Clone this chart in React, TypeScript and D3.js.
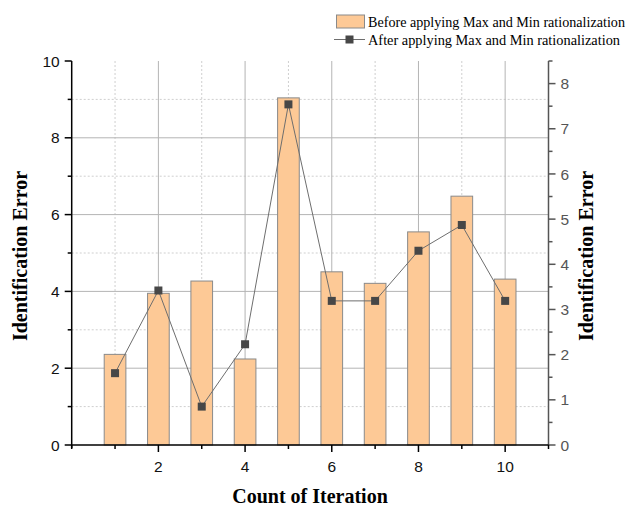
import React from "react";
import * as d3 from "d3";

const iterations = [1, 2, 3, 4, 5, 6, 7, 8, 9, 10];
const beforeValues = [2.36, 3.95, 4.27, 2.24, 9.04, 4.51, 4.21, 5.55, 6.48, 4.32];
const afterValues = [1.59, 3.42, 0.85, 2.23, 7.54, 3.19, 3.19, 4.3, 4.87, 3.19];
const xMajorTicks = [2, 4, 6, 8, 10];
const xMinorTicks = [0, 1, 3, 5, 7, 9, 11];
const leftMajorTicks = [0, 2, 4, 6, 8, 10];
const leftMinorTicks = [1, 3, 5, 7, 9];
const rightMajorTicks = [0, 1, 2, 3, 4, 5, 6, 7, 8];
const rightMinorTicks = [0.5, 1.5, 2.5, 3.5, 4.5, 5.5, 6.5, 7.5];
const legendLabels = [
  "Before applying Max and Min rationalization",
  "After applying Max and Min rationalization",
];
const xTitle = "Count of Iteration";
const yTitle = "Identification Error";

const W = 630;
const H = 506;
const L = 71.7;
const R = 548.5;
const T = 61;
const B = 445;

export default function App() {
  const x = d3.scaleLinear().domain([0, 11]).range([L, R]);
  const yL = d3.scaleLinear().domain([0, 10]).range([B, T]);
  const yR = d3.scaleLinear().domain([0, 8.5]).range([B, T]);
  const barW = x(0.5) - x(0);
  const line = d3
    .line<number>()
    .x((_, i) => x(iterations[i]))
    .y((d) => yR(d));
  const sans = "'Liberation Sans', Arial, sans-serif";
  const serif = "'Liberation Serif', 'Times New Roman', serif";
  const gridMajor = "#b4b4b4";
  const gridMinor = "#cfcfcf";
  const rightColor = "#555";

  return (
    <svg
      width={W}
      height={H}
      style={{ position: "absolute", left: 0, top: 0, background: "#fff" }}
    >
      {/* grid */}
      {leftMinorTicks.map((v) => (
        <line key={"hm" + v} x1={L} x2={R} y1={yL(v)} y2={yL(v)} stroke={gridMinor} strokeDasharray="2,2" />
      ))}
      {xMinorTicks
        .filter((v) => v > 0 && v < 11)
        .map((v) => (
          <line key={"vm" + v} x1={x(v)} x2={x(v)} y1={T} y2={B} stroke={gridMinor} strokeDasharray="2,2" />
        ))}
      {leftMajorTicks
        .filter((v) => v > 0 && v < 10)
        .map((v) => (
          <line key={"hM" + v} x1={L} x2={R} y1={yL(v)} y2={yL(v)} stroke={gridMajor} strokeWidth={1} />
        ))}
      {xMajorTicks.map((v) => (
        <line key={"vM" + v} x1={x(v)} x2={x(v)} y1={T} y2={B} stroke={gridMajor} strokeWidth={1} />
      ))}

      {/* bars */}
      {beforeValues.map((v, i) => (
        <rect
          key={"b" + i}
          x={x(iterations[i]) - barW / 2}
          y={yL(v)}
          width={barW}
          height={B - yL(v)}
          fill="#fdc996"
          stroke="#8a8a8a"
          strokeWidth={1}
        />
      ))}

      {/* line */}
      <path d={line(afterValues) || ""} fill="none" stroke="#6e6e6e" strokeWidth={1} />
      {afterValues.map((v, i) => (
        <rect key={"m" + i} x={x(iterations[i]) - 4} y={yR(v) - 4} width={8} height={8} fill="#474747" />
      ))}

      {/* left axis */}
      <line x1={L} x2={L} y1={T} y2={B + 3} stroke="#000" strokeWidth={1.5} />
      {leftMajorTicks.map((v) => (
        <g key={"lt" + v}>
          <line x1={L - 7} x2={L} y1={yL(v)} y2={yL(v)} stroke="#000" strokeWidth={1.5} />
          <text x={L - 12} y={yL(v)} dy="0.36em" textAnchor="end" fontFamily={sans} fontSize={15.5} fill="#111">
            {v}
          </text>
        </g>
      ))}
      {leftMinorTicks.map((v) => (
        <line key={"ltm" + v} x1={L - 4} x2={L} y1={yL(v)} y2={yL(v)} stroke="#000" strokeWidth={1.5} />
      ))}

      {/* right axis */}
      <line x1={R} x2={R} y1={T} y2={B} stroke={rightColor} strokeWidth={1.5} />
      {rightMajorTicks.map((v) => (
        <g key={"rt" + v}>
          <line x1={R} x2={R + 7} y1={yR(v)} y2={yR(v)} stroke={rightColor} strokeWidth={1.5} />
          <text x={R + 12} y={yR(v)} dy="0.36em" textAnchor="start" fontFamily={sans} fontSize={15.5} fill={rightColor}>
            {v}
          </text>
        </g>
      ))}
      {rightMinorTicks.map((v) => (
        <line key={"rtm" + v} x1={R} x2={R + 4} y1={yR(v)} y2={yR(v)} stroke={rightColor} strokeWidth={1.5} />
      ))}
      <line x1={R} x2={R + 4} y1={T} y2={T} stroke={rightColor} strokeWidth={1.5} />

      {/* bottom axis */}
      <line x1={L} x2={R} y1={B} y2={B} stroke="#000" strokeWidth={1.5} />
      {xMajorTicks.map((v) => (
        <g key={"xt" + v}>
          <line x1={x(v)} x2={x(v)} y1={B} y2={B + 7} stroke="#000" strokeWidth={1.5} />
          <text x={x(v)} y={B + 27} textAnchor="middle" fontFamily={sans} fontSize={15.5} fill="#111">
            {v}
          </text>
        </g>
      ))}
      {xMinorTicks.map((v) => (
        <line key={"xtm" + v} x1={x(v)} x2={x(v)} y1={B} y2={B + 4} stroke="#000" strokeWidth={1.5} />
      ))}

      {/* titles */}
      <text x={310} y={503} textAnchor="middle" fontFamily={serif} fontWeight="bold" fontSize={20} fill="#000">
        {xTitle}
      </text>
      <text
        transform={`translate(27,${(T + B) / 2 + 3}) rotate(-90)`}
        textAnchor="middle"
        fontFamily={serif}
        fontWeight="bold"
        fontSize={20}
        fill="#000"
      >
        {yTitle}
      </text>
      <text
        transform={`translate(593,${(T + B) / 2 + 3}) rotate(-90)`}
        textAnchor="middle"
        fontFamily={serif}
        fontWeight="bold"
        fontSize={20}
        fill="#000"
      >
        {yTitle}
      </text>

      {/* legend */}
      <rect x={336.5} y={15} width={28} height={13} fill="#fdc996" stroke="#8a8a8a" strokeWidth={1} />
      <text x={368} y={27} fontFamily={serif} fontSize={14} fill="#000" textLength={257} lengthAdjust="spacingAndGlyphs">
        {legendLabels[0]}
      </text>
      <line x1={334} x2={365} y1={39.5} y2={39.5} stroke="#6e6e6e" strokeWidth={1} />
      <rect x={345.5} y={35.5} width={8} height={8} fill="#474747" />
      <text x={368} y={44.5} fontFamily={serif} fontSize={14} fill="#000" textLength={252} lengthAdjust="spacingAndGlyphs">
        {legendLabels[1]}
      </text>
    </svg>
  );
}
